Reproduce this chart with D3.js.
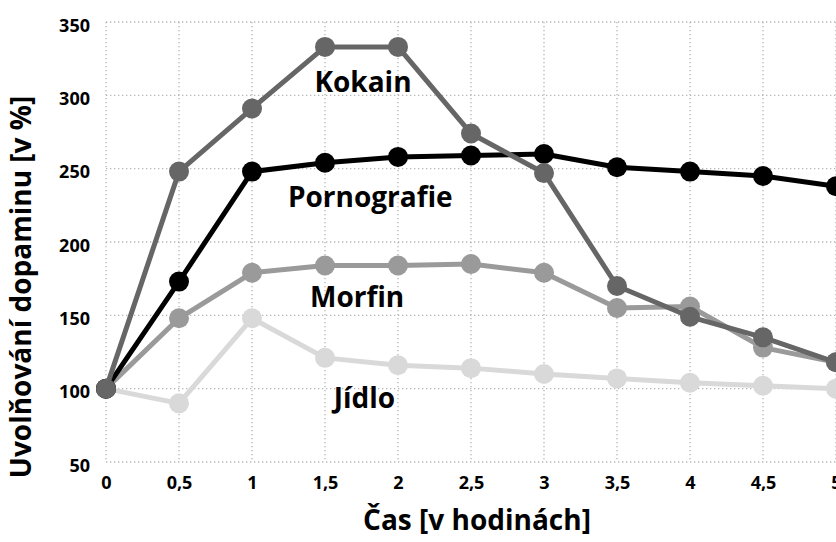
<!DOCTYPE html>
<html><head><meta charset="utf-8">
<script src="https://cdn.jsdelivr.net/npm/d3@7"></script>
<style>
html,body{margin:0;padding:0;background:#fff;}
svg{display:block;font-family:"Open Sans",sans-serif;font-weight:700;}
</style></head>
<body><svg id="c" width="836" height="542"></svg>
<script>
const times = [0,0.5,1,1.5,2,2.5,3,3.5,4,4.5,5];
const xTickLabels = ["0","0,5","1","1,5","2","2,5","3","3,5","4","4,5","5"];
const yTicks = [50,100,150,200,250,300,350];
const seriesNames = ["Jídlo","Morfin","Pornografie","Kokain"];
const jidlo = [100,90,148,121,116,114,110,107,104,102,100];
const morfin = [100,148,179,184,184,185,179,155,156,128,118];
const pornografie = [100,173,248,254,258,259,260,251,248,245,238];
const kokain = [100,248,291,333,333,274,247,170,149,135,118];
const seriesValues = [jidlo, morfin, pornografie, kokain];
const colors = ["#d9d9d9","#9a9a9a","#000000","#666666"];
const labelPos = [[1.77,87],[1.72,156],[1.81,224],[1.76,302]]; // label anchors in data units

const svg = d3.select("#c");
const x = d3.scaleLinear().domain([0,5]).range([106,836]);
const y = d3.scaleLinear().domain([50,350]).range([462,22]);

const grid = svg.append("g").attr("stroke","#b5b5b5").attr("stroke-width",1.3).attr("stroke-dasharray","1.3,2.7");
grid.selectAll("line.v").data(times).join("line").attr("class","v")
  .attr("x1",d=>x(d)).attr("x2",d=>x(d)).attr("y1",y(350)).attr("y2",y(50));
grid.selectAll("line.h").data(yTicks).join("line").attr("class","h")
  .attr("x1",x(0)).attr("x2",836).attr("y1",d=>y(d)).attr("y2",d=>y(d));

const xAxis = d3.axisBottom(x).tickValues(times).tickFormat((d,i)=>xTickLabels[i]).tickSize(0).tickPadding(14);
const gx = svg.append("g").attr("transform",`translate(0,${y(50)})`).call(xAxis);
gx.select(".domain").remove();
gx.selectAll("text").attr("font-size",18).attr("font-weight",700).attr("font-family","Open Sans").attr("fill","#000");

const yAxis = d3.axisLeft(y).tickValues(yTicks).tickSize(0).tickPadding(16);
const gy = svg.append("g").attr("transform",`translate(${x(0)},0)`).call(yAxis);
gy.select(".domain").remove();
gy.selectAll("text").attr("font-size",18).attr("font-weight",700).attr("font-family","Open Sans").attr("fill","#000").attr("dy","0.5em");

const line = d3.line().x((d,i)=>x(times[i])).y(d=>y(d));
seriesValues.forEach((vals,k)=>{
  const g = svg.append("g");
  g.append("path").datum(vals).attr("d",line).attr("fill","none").attr("stroke",colors[k]).attr("stroke-width",5).attr("stroke-linejoin","round");
  g.selectAll("circle").data(vals).join("circle").attr("cx",(d,i)=>x(times[i])).attr("cy",d=>y(d)).attr("r",10).attr("fill",colors[k]);
});

const lbl = svg.append("g").attr("font-size",28).attr("text-anchor","middle").attr("fill","#000");
seriesNames.forEach((n,k)=>{
  lbl.append("text").attr("x",x(labelPos[k][0])).attr("y",y(labelPos[k][1])).text(n);
});

svg.append("text").attr("x",477).attr("y",530).attr("text-anchor","middle").attr("font-size",28).text("Čas [v hodinách]");
svg.append("text").attr("transform","translate(31,287) rotate(-90)").attr("text-anchor","middle").attr("font-size",28).text("Uvolňování dopaminu [v %]");
</script></body></html>
